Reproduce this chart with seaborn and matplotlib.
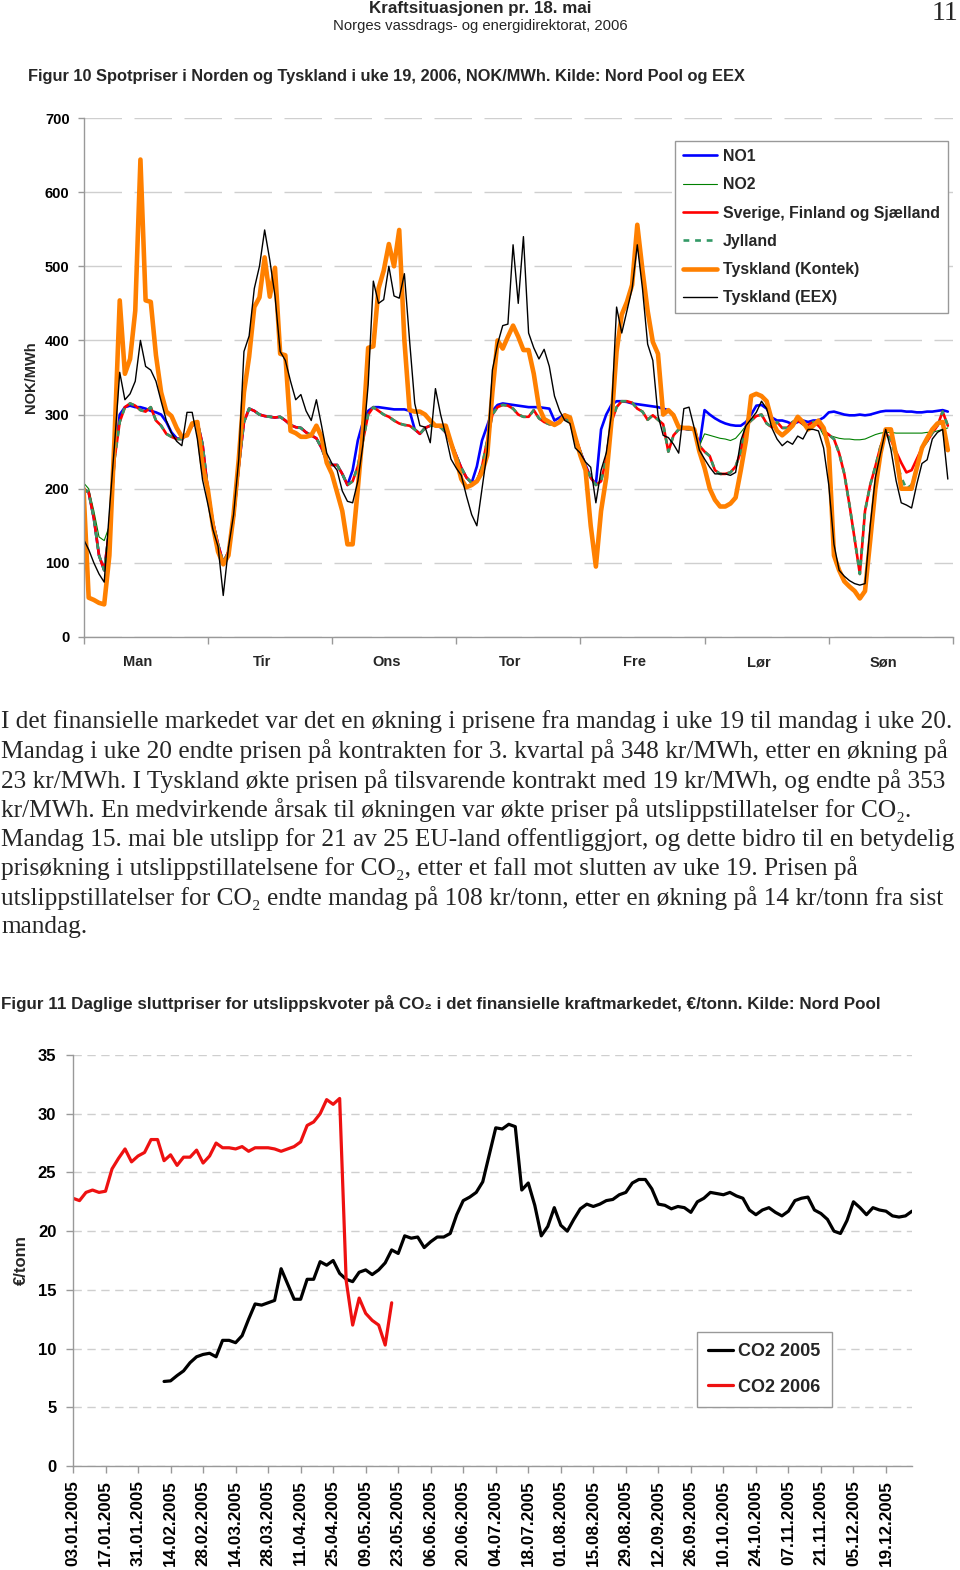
import numpy as np
import pandas as pd
import seaborn as sns
import matplotlib.pyplot as plt
from matplotlib import font_manager

# ---------------- Figur 10: spotpriser uke 19, 2006 (NOK/MWh), hourly Man-Søn
days = ["Man", "Tir", "Ons", "Tor", "Fre", "Lør", "Søn"]
hours = np.arange(168)

no1 = [200, 195, 160, 110, 90, 145, 245, 300, 310, 312, 310, 310, 308, 305, 303, 300, 290, 276, 268, 267, 274, 285, 290, 260,
       200, 155, 125, 100, 115, 160, 230, 290, 308, 305, 300, 298, 297, 296, 297, 292, 286, 283, 282, 276, 272, 268, 255, 237,
       232, 232, 220, 205, 225, 265, 290, 305, 310, 310, 309, 308, 307, 307, 307, 305, 280, 274, 282, 285, 285, 283, 276, 262,
       245, 228, 215, 208, 230, 265, 285, 305, 313, 315, 314, 313, 312, 311, 310, 310, 310, 309, 308, 292, 296, 300, 292, 270,
       250, 232, 215, 206, 280, 300, 313, 318, 318, 317, 315, 314, 313, 312, 311, 310, 308, 306, 300, 283, 281, 280, 281, 258,
       306, 300, 295, 291, 288, 286, 285, 285, 290, 300, 312, 313, 308, 296, 292, 292, 290, 287, 290, 292, 290, 292, 292, 296,
       303, 304, 302, 300, 299, 299, 300, 299, 300, 302, 304, 305, 305, 305, 305, 304, 304, 303, 303, 304, 304, 305, 306, 304]

no2 = [208, 200, 170, 135, 130, 150, 240, 290, 310, 315, 312, 306, 304, 310, 292, 285, 274, 270, 267, 267, 274, 285, 290, 260,
       200, 155, 125, 100, 115, 160, 230, 290, 308, 305, 300, 298, 297, 296, 297, 292, 286, 283, 282, 276, 272, 268, 255, 237,
       232, 232, 220, 205, 210, 230, 265, 300, 310, 305, 300, 297, 292, 288, 286, 285, 280, 274, 282, 285, 285, 283, 276, 262,
       245, 228, 215, 208, 210, 230, 265, 300, 310, 313, 312, 308, 300, 297, 297, 306, 295, 290, 287, 287, 290, 296, 290, 270,
       250, 230, 215, 205, 210, 240, 290, 310, 318, 318, 316, 308, 304, 293, 299, 293, 287, 250, 272, 280, 281, 280, 281, 258,
       274, 272, 270, 268, 267, 265, 268, 276, 285, 292, 298, 300, 288, 283, 290, 282, 282, 290, 292, 287, 286, 290, 285, 272,
       272, 270, 268, 267, 267, 266, 266, 267, 270, 273, 275, 276, 276, 275, 275, 275, 275, 275, 275, 276, 276, 278, 280, 282]

sverige = [200, 195, 160, 110, 90, 145, 240, 290, 310, 315, 312, 306, 304, 310, 292, 285, 274, 270, 267, 267, 274, 285, 290, 260,
           200, 155, 125, 100, 115, 160, 230, 290, 308, 305, 300, 298, 297, 296, 297, 292, 286, 283, 282, 276, 272, 268, 255, 237,
           232, 232, 220, 205, 210, 230, 265, 300, 310, 305, 300, 297, 292, 288, 286, 285, 280, 274, 282, 285, 285, 283, 276, 262,
           245, 228, 215, 208, 210, 230, 265, 300, 310, 313, 312, 308, 300, 297, 297, 306, 295, 290, 287, 287, 290, 296, 290, 270,
           250, 230, 215, 205, 210, 240, 290, 310, 318, 318, 316, 308, 304, 293, 299, 293, 287, 250, 272, 280, 281, 280, 281, 258,
           250, 244, 225, 220, 220, 222, 230, 250, 285, 292, 298, 300, 288, 283, 290, 282, 282, 290, 292, 287, 286, 290, 285, 278,
           273, 267, 248, 220, 178, 132, 85, 170, 205, 230, 257, 275, 266, 250, 235, 222, 225, 240, 255, 264, 275, 285, 304, 285]

jylland = [200, 195, 160, 110, 90, 145, 240, 290, 310, 315, 312, 306, 304, 310, 292, 285, 274, 270, 267, 267, 274, 285, 290, 260,
           200, 155, 125, 100, 115, 160, 230, 290, 308, 305, 300, 298, 297, 296, 297, 292, 286, 283, 282, 276, 272, 268, 255, 237,
           232, 232, 220, 205, 210, 230, 265, 300, 310, 305, 300, 297, 292, 288, 286, 285, 280, 274, 282, 285, 285, 283, 276, 262,
           245, 228, 215, 208, 210, 230, 265, 300, 310, 313, 312, 308, 300, 297, 297, 306, 295, 290, 287, 287, 290, 296, 290, 270,
           250, 230, 215, 205, 210, 240, 290, 310, 318, 318, 316, 308, 304, 293, 299, 293, 287, 250, 272, 280, 281, 280, 281, 258,
           250, 244, 225, 220, 220, 222, 230, 250, 285, 292, 298, 300, 288, 283, 290, 282, 282, 290, 292, 287, 286, 290, 285, 278,
           273, 267, 248, 220, 178, 132, 85, 170, 205, 230, 257, 275, 266, 240, 215, 200, 205, 228, 255, 264, 275, 285, 304, 285]

kontek = [200, 53, 50, 46, 44, 110, 270, 454, 355, 375, 440, 644, 454, 452, 380, 330, 304, 298, 282, 270, 272, 288, 290, 230,
          200, 150, 115, 98, 110, 165, 240, 330, 378, 445, 458, 512, 459, 498, 382, 380, 278, 275, 270, 270, 272, 285, 270, 235,
          220, 195, 170, 125, 125, 200, 280, 390, 392, 470, 494, 530, 500, 549, 400, 306, 304, 304, 300, 292, 285, 285, 285, 262,
          240, 213, 202, 205, 210, 222, 245, 330, 400, 389, 405, 420, 405, 387, 387, 355, 310, 294, 290, 286, 290, 299, 296, 270,
          245, 225, 150, 95, 170, 215, 290, 385, 435, 452, 475, 556, 495, 440, 398, 382, 300, 306, 299, 283, 282, 282, 280, 250,
          228, 200, 185, 176, 176, 180, 188, 225, 265, 325, 328, 325, 318, 292, 278, 272, 278, 285, 297, 290, 280, 285, 292, 282,
          255, 110, 90, 75, 68, 62, 52, 62, 130, 200, 248, 280, 280, 245, 200, 200, 200, 228, 255, 268, 280, 288, 290, 252]

eex = [132, 118, 100, 85, 74, 170, 260, 357, 320, 328, 345, 400, 365, 360, 345, 318, 292, 275, 264, 258, 303, 303, 267, 212,
       180, 145, 122, 56, 120, 165, 240, 385, 406, 470, 500, 549, 508, 460, 385, 373, 345, 320, 327, 305, 292, 320, 285, 248,
       234, 225, 197, 183, 181, 210, 260, 340, 480, 450, 455, 500, 460, 457, 490, 400, 315, 285, 283, 262, 335, 300, 272, 240,
       228, 218, 190, 165, 150, 200, 250, 360, 395, 420, 422, 529, 450, 540, 410, 390, 375, 388, 365, 325, 305, 292, 288, 255,
       248, 236, 229, 181, 225, 248, 300, 445, 410, 440, 470, 529, 470, 395, 373, 299, 272, 269, 260, 248, 308, 310, 282, 252,
       240, 229, 220, 220, 220, 218, 222, 265, 285, 294, 303, 318, 308, 282, 267, 258, 264, 260, 271, 267, 280, 280, 278, 255,
       205, 125, 90, 82, 76, 72, 70, 72, 150, 215, 248, 280, 253, 211, 181, 178, 174, 206, 234, 239, 267, 276, 280, 213]

# ---------------- Figur 11: CO2 (EUR/tonn), read every 2nd trading day
trading_days = pd.bdate_range("2005-01-03", "2005-12-30")
co2_2005_first_day = 28      # first quote, 10.02.2005
co2_2005 = [7.2, 7.25, 7.7, 8.1, 8.8, 9.3, 9.5, 9.6, 9.3, 10.7, 10.7, 10.5, 11.1, 12.5, 13.8, 13.7,
            13.9, 14.1, 16.8, 15.5, 14.2, 14.2, 15.9, 15.9, 17.4, 17.1, 17.5, 16.4, 15.9, 15.7, 16.5, 16.7,
            16.3, 16.7, 17.3, 18.4, 18.1, 19.6, 19.4, 19.5, 18.6, 19.1, 19.5, 19.5, 19.8, 21.4, 22.6, 22.9,
            23.3, 24.2, 26.5, 28.8, 28.7, 29.1, 28.9, 23.5, 24.1, 22.2, 19.6, 20.4, 22.0, 20.5, 20.0, 21.0,
            21.9, 22.3, 22.1, 22.3, 22.6, 22.7, 23.1, 23.3, 24.1, 24.4, 24.4, 23.6, 22.3, 22.2, 21.9, 22.1,
            22.0, 21.6, 22.5, 22.8, 23.3, 23.2, 23.1, 23.3, 23.0, 22.8, 21.8, 21.4, 21.8, 22.0, 21.6, 21.3,
            21.7, 22.6, 22.8, 22.9, 21.8, 21.5, 21.0, 20.0, 19.8, 20.9, 22.5, 22.0, 21.4, 22.0, 21.8, 21.7,
            21.3, 21.2, 21.3, 21.7]
co2_2006 = [22.8, 22.6, 23.3, 23.5, 23.3, 23.4, 25.3, 26.2, 27.0, 25.9, 26.4, 26.7, 27.8, 27.8, 26.0, 26.5,
            25.6, 26.3, 26.3, 26.9, 25.8, 26.4, 27.5, 27.1, 27.1, 27.0, 27.2, 26.8, 27.1, 27.1, 27.1, 27.0,
            26.8, 27.0, 27.2, 27.6, 29.0, 29.3, 30.0, 31.2, 30.8, 31.3, 15.8, 12.0, 14.3, 13.0, 12.4, 12.0,
            10.3, 13.9]
step = 2

paragraph = [
    "I det finansielle markedet var det en økning i prisene fra mandag i uke 19 til mandag i uke 20.",
    "Mandag i uke 20 endte prisen på kontrakten for 3. kvartal på 348 kr/MWh, etter en økning på",
    "23 kr/MWh. I Tyskland økte prisen på tilsvarende kontrakt med 19 kr/MWh, og endte på 353",
    "kr/MWh. En medvirkende årsak til økningen var økte priser på utslippstillatelser for CO₂.",
    "Mandag 15. mai ble utslipp for 21 av 25 EU-land offentliggjort, og dette bidro til en betydelig",
    "prisøkning i utslippstillatelsene for CO₂, etter et fall mot slutten av uke 19. Prisen på",
    "utslippstillatelser for CO₂ endte mandag på 108 kr/tonn, etter en økning på 14 kr/tonn fra sist",
    "mandag.",
]

# ---------------- style
sns.set_style("white")
installed = {f.name for f in font_manager.fontManager.ttflist}
narrow = ["Liberation Sans Narrow" if "Liberation Sans Narrow" in installed else "Liberation Sans", "DejaVu Sans"]
serif = ["Liberation Serif", "DejaVu Serif"]
plt.rcParams["font.family"] = ["Liberation Sans", "DejaVu Sans"]

W, H = 960, 1570
fig = plt.figure(figsize=(W / 100, H / 100), dpi=100)
renderer = fig.canvas.get_renderer()


def ftext(x, y, s, width=None, **kw):
    t = fig.text(x / W, 1 - y / H, s, va="center", **kw)
    if width:
        w = t.get_window_extent(renderer=renderer).width
        t.set_fontsize(t.get_fontsize() * width / w)
    return t


def style_axes(ax, dash):
    for side in ["top", "right"]:
        ax.spines[side].set_visible(False)
    for side in ["left", "bottom"]:
        ax.spines[side].set_color("#999999")
        ax.spines[side].set_linewidth(1)
    ax.grid(axis="y", color="#cfcfcf", linewidth=1, linestyle=(0, dash))
    ax.grid(axis="x", visible=False)
    ax.tick_params(colors="#999999", labelcolor="black")


# header
ftext(480, 8, "Kraftsituasjonen pr. 18. mai", width=222, ha="center", family=narrow, fontweight="bold", fontsize=12)
ftext(480, 26, "Norges vassdrags- og energidirektorat, 2006", width=293, ha="center", family=narrow, fontsize=11)
ftext(958, 14, "11", ha="right", family=serif, fontsize=20)
ftext(28, 77, "Figur 10 Spotpriser i Norden og Tyskland i uke 19, 2006, NOK/MWh. Kilde: Nord Pool og EEX",
      width=717, ha="left", family=narrow, fontweight="bold", fontsize=12)

# ---------------- chart 1
ax1 = fig.add_axes([83.5 / W, 1 - 637 / H, 869.5 / W, 519 / H])
series = [
    ("NO1", no1, "#0000ff", 1.9, "-"),
    ("NO2", no2, "#008000", 0.8, "-"),
    ("Sverige, Finland og Sjælland", sverige, "#ff0000", 1.9, "-"),
    ("Jylland", jylland, "#339966", 1.9, (0, (2.2, 2.2))),
    ("Tyskland (Kontek)", kontek, "#ff8000", 3.3, "-"),
    ("Tyskland (EEX)", eex, "#000000", 1.0, "-"),
]
for name, vals, col, lw, ls in series:
    sns.lineplot(x=hours, y=vals, ax=ax1, color=col, linewidth=lw, linestyle=ls, label=name)

style_axes(ax1, (27, 9))
ax1.set_xlim(0, 168)
ax1.set_ylim(0, 700)
ax1.set_yticks(range(0, 701, 100))
ax1.set_xticks(range(0, 169, 24))
ax1.set_xticklabels([])
# day names sit a little left of the day centres, as in the original
ax1.set_xticks(np.arange(12, 168, 24) - 1.5, minor=True)
ax1.set_xticklabels(days, minor=True)
ax1.tick_params(axis="x", which="major", direction="out", length=5, width=1, bottom=True)
ax1.tick_params(axis="x", which="minor", length=0, pad=13, labelsize=10.5)
ax1.tick_params(axis="y", direction="out", length=4, width=1, left=True, pad=6, labelsize=10.5)
for lab in ax1.get_xticklabels(minor=True) + ax1.get_yticklabels():
    lab.set_fontweight("bold")
ax1.set_xlabel("")
ax1.set_ylabel("NOK/MWh", fontsize=10.5, fontweight="bold")
ax1.yaxis.set_label_coords(-0.052, 0.5)
leg = ax1.legend(loc="upper right", bbox_to_anchor=(0.9942, 0.9557), borderaxespad=0, fancybox=False,
                 framealpha=1, edgecolor="#999999", prop=dict(weight="bold", size=11.4),
                 handlelength=2.2, handletextpad=0.35, labelspacing=0.84, borderpad=0.5)
leg.get_frame().set_linewidth(1)

# ---------------- paragraph
para_size = None
for i, line in enumerate(paragraph):
    y = 722 + i * 29.3
    if para_size is None:
        t = ftext(1, y, line, width=954, ha="left", family=serif, fontsize=16)
        para_size = t.get_fontsize()
    else:
        ftext(1, y, line, ha="left", family=serif, fontsize=para_size)

ftext(1, 1004, "Figur 11 Daglige sluttpriser for utslippskvoter på CO₂ i det finansielle kraftmarkedet, €/tonn. Kilde: Nord Pool",
      width=872, ha="left", family=narrow, fontweight="bold", fontsize=12)

# ---------------- chart 2
ax2 = fig.add_axes([73 / W, 1 - 1466 / H, 839 / W, 411 / H])
x05 = np.arange(len(co2_2005)) * step + co2_2005_first_day
x06 = np.arange(len(co2_2006)) * step
sns.lineplot(x=x05, y=co2_2005, ax=ax2, color="#000000", linewidth=2.3, label="CO2 2005")
sns.lineplot(x=x06, y=co2_2006, ax=ax2, color="#ee1111", linewidth=2.3, label="CO2 2006")

style_axes(ax2, (6, 4))
ax2.set_xlim(0, 258)
ax2.set_ylim(0, 35)
ax2.set_yticks(range(0, 36, 5))
tick_idx = np.arange(0, len(trading_days), 10)
ax2.set_xticks(tick_idx)
ax2.set_xticklabels(trading_days[tick_idx].strftime("%d.%m.%Y"), rotation=90, fontsize=12.3, fontweight="bold")
ax2.tick_params(axis="x", direction="out", length=5, width=1, bottom=True, pad=5)
ax2.tick_params(axis="y", direction="out", length=5, width=1, left=True, pad=7, labelsize=12)
for lab in ax2.get_yticklabels():
    lab.set_fontweight("bold")
ax2.set_xlabel("")
ax2.set_ylabel("€/tonn", fontsize=12, fontweight="bold")
ax2.yaxis.set_label_coords(-0.053, 0.5)
leg2 = ax2.legend(loc="upper left", bbox_to_anchor=(0.7437, 0.326), borderaxespad=0, fancybox=False,
                  framealpha=1, edgecolor="#999999", prop=dict(weight="bold", size=13),
                  handlelength=1.4, handletextpad=0.3, labelspacing=1.05, borderpad=0.6)
leg2.get_frame().set_linewidth(1)

fig.savefig("out.png", dpi=100)
